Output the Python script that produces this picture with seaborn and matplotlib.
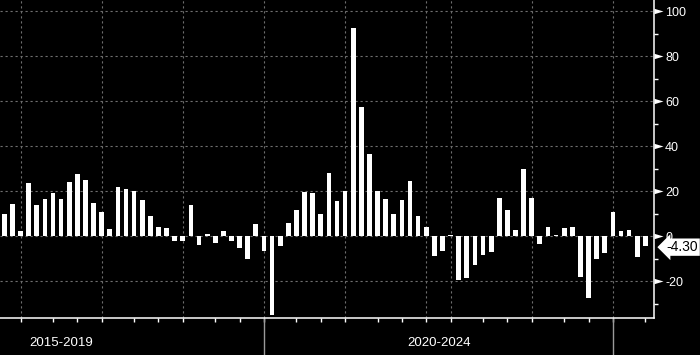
import matplotlib
matplotlib.use("Agg")
import matplotlib.pyplot as plt
import matplotlib.transforms as mtransforms
from matplotlib.path import Path
import pandas as pd
import seaborn as sns

# ====================================
# Data (80 periods)
# ====================================
values = [
    10.0, 14.3, 2.2, 23.7, 13.9, 16.6, 19.3, 16.6, 24.2, 27.8,
    25.1, 14.8, 10.7, 3.1, 21.9, 21.0, 20.1, 16.1, 9.0, 4.0,
    3.6, -2.2, -2.2, 13.9, -4.0, 0.9, -3.1, 2.2, -2.2, -5.4,
    -10.3, 5.4, -6.7, -35.1, -4.5, 5.8, 11.6, 19.7, 19.3, 9.9,
    28.2, 15.7, 20.1, 92.4, 57.3, 36.5, 20.1, 16.6, 9.9, 16.1,
    24.6, 9.0, 4.0, -9.0, -6.7, 0.4, -19.7, -18.8, -13.0, -8.5,
    -7.2, 17.0, 11.6, 2.7, 29.6, 17.0, -3.6, 4.0, 0.5, 3.6,
    4.0, -18.4, -27.6, -10.3, -7.6, 10.7, 2.2, 2.7, -9.4, -4.3,
]
periods = list(range(len(values)))

grid_pos = [2, 12, 22, 32, 42, 52, 55, 65, 75]
minor_pos = [6, 9, 16, 19, 26, 29, 36, 39, 46, 49, 59, 62, 69, 72, 79]
y_major = [-20, 0, 20, 40, 60, 80, 100]
y_minor = [-30, -10, 10, 30, 50, 70, 90]
region_labels = ["2015-2019", "2020-2024"]
region_label_pos = [7.0, 53.6]
separators = [32, 75]
last_label = "-4.30"

# ====================================
# Style
# ====================================
sns.set_theme(style="dark", rc={
    "axes.facecolor": "black",
    "figure.facecolor": "black",
    "text.color": "white",
})
plt.rcParams['font.family'] = ['Liberation Sans', 'DejaVu Sans']

fig = plt.figure(figsize=(7, 3.55), dpi=100)
ax = fig.add_axes([0, 0.1042, 0.9343, 0.8958])

df = pd.DataFrame({"period": periods, "change": values})
sns.barplot(data=df, x="period", y="change", color="white", saturation=1,
            width=0.58, linewidth=0, ax=ax, zorder=3)

ax.set_xlim(-0.53, 80.07)
ax.set_ylim(-36.4, 104.9)
ax.set_xlabel("")
ax.set_ylabel("")

# x axis: short ticks, gridlines only at the major ones
ax.set_xticks(grid_pos)
ax.set_xticklabels([])
ax.set_xticks(minor_pos, minor=True)
ax.tick_params(axis="x", which="both", direction="out", length=3, width=1,
               color="white", bottom=True, labelbottom=False)

# y axis on the right
ax.yaxis.tick_right()
ax.set_yticks(y_major)
ax.set_yticklabels([str(v) for v in y_major])
ax.set_yticks(y_minor, minor=True)
ax.tick_params(axis="y", which="major", right=True, left=False, labelright=True,
               labelleft=False, length=6.5, pad=1.5, labelsize=9, labelcolor="white",
               color="white")
ax.tick_params(axis="y", which="minor", right=True, left=False, length=3,
               width=1, color="white")

ax.set_axisbelow(True)
ax.grid(which="major", axis="both", color="#6e6e6e", linestyle=(0, (2, 2.5)),
        linewidth=0.8)
ax.grid(which="minor", visible=False)

for side in ["left", "top"]:
    ax.spines[side].set_visible(False)
for side in ["right", "bottom"]:
    ax.spines[side].set_visible(True)
    ax.spines[side].set_color("white")
    ax.spines[side].set_linewidth(1.1)

# triangle markers on the major y ticks
caret = Path([(0, -0.3), (1, 0), (0, 0.3), (0, -0.3)],
             [Path.MOVETO, Path.LINETO, Path.LINETO, Path.CLOSEPOLY])
for t in ax.yaxis.get_major_ticks():
    t.tick2line.set_marker(caret)
    t.tick2line.set_markersize(13)
    t.tick2line.set_markerfacecolor("white")
    t.tick2line.set_markeredgewidth(0)

# region labels and separators under the axis
lab_trans = mtransforms.blended_transform_factory(ax.transData, ax.transAxes)
for pos, lab in zip(region_label_pos, region_labels):
    ax.text(pos, -0.08, lab, transform=lab_trans, ha="center", va="center",
            color="white", fontsize=9.5)
for s in separators:
    ax.axvline(s, ymin=-0.12, ymax=0, clip_on=False, color="#9a9a9a", lw=1)

# last value tag
ax.annotate(last_label, xy=(1, values[-1]),
            xycoords=("axes fraction", "data"),
            xytext=(9, -1), textcoords="offset points",
            ha="left", va="center", color="black", fontsize=10, zorder=10,
            bbox=dict(boxstyle="larrow,pad=0.12", fc="white", ec="none"),
            annotation_clip=False)

fig.savefig("out.png", dpi=100, facecolor="black")
